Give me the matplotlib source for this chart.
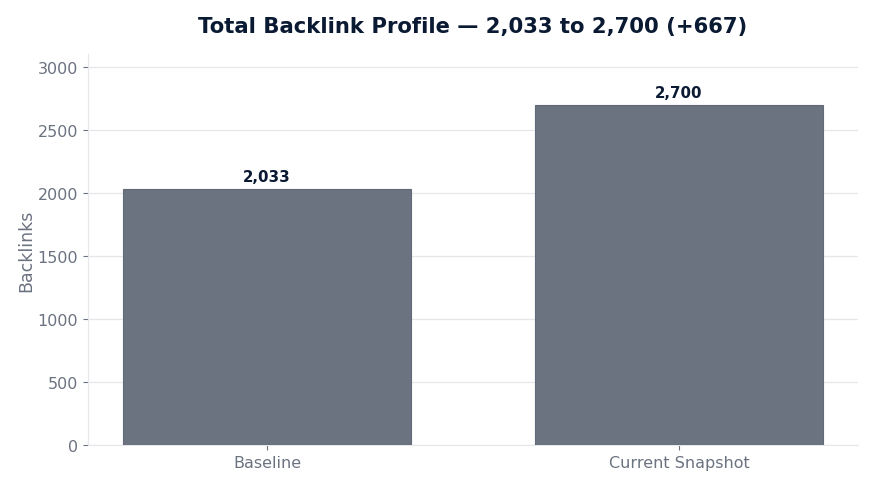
import matplotlib
matplotlib.use("Agg")
import matplotlib.pyplot as plt

categories = ["Baseline", "Current Snapshot"]
backlinks = [2033, 2700]
value_labels = ["2,033", "2,700"]

fig = plt.figure(figsize=(8.75, 4.89), dpi=100)
ax = fig.add_axes([0.1006, 0.088, 0.88, 0.7995])

bars = ax.bar(categories, backlinks, width=0.7, color="#6b7280",
              edgecolor="#626978", linewidth=0.8, zorder=3)
ax.set_ylim(0, max(backlinks) * 1.15)

for b, lab in zip(bars, value_labels):
    ax.text(b.get_x() + b.get_width() / 2, b.get_height() + 40, lab,
            ha="center", va="bottom", fontsize=10.8, fontweight="bold",
            color="#0b1a33")

ax.set_title("Total Backlink Profile \u2014 2,033 to 2,700 (+667)",
             fontsize=15.2, fontweight="bold", color="#0b1a33", pad=16)
ax.set_ylabel("Backlinks", fontsize=12.5, color="#6b7280", labelpad=2)

ax.yaxis.grid(True, color="#e5e7eb", linewidth=0.9, zorder=0)
ax.set_axisbelow(True)
for s in ["top", "right"]:
    ax.spines[s].set_visible(False)
for s in ["left", "bottom"]:
    ax.spines[s].set_color("#e5e7eb")
ax.tick_params(axis="both", colors="#6b7280", labelsize=11.5)

fig.savefig("out.png", dpi=100)
